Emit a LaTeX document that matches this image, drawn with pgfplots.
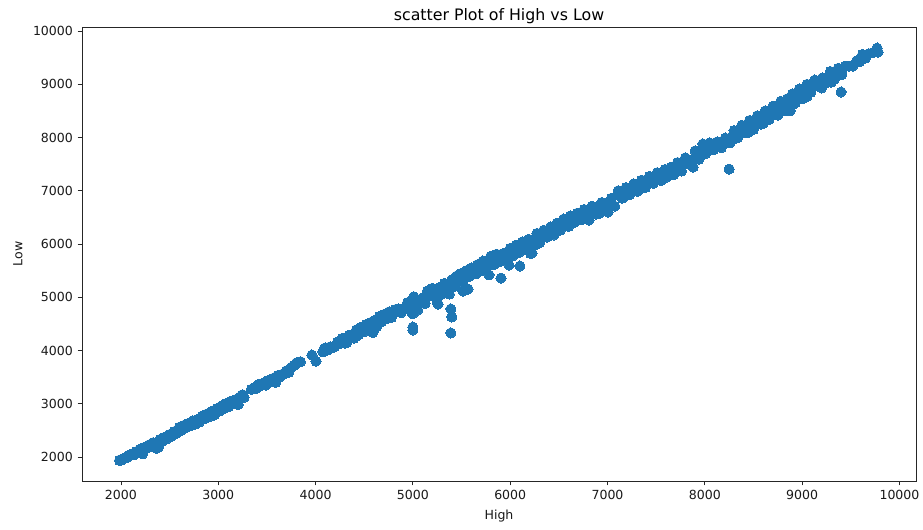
\documentclass[border=0pt]{standalone}
\usepackage{fontspec}
\setmainfont{DejaVu Sans}
\usepackage{pgfplots}
\pgfplotsset{compat=1.18}
\definecolor{mplblue}{HTML}{1F77B4}
\definecolor{spine}{HTML}{262626}

\begin{document}
\begin{tikzpicture}[x=1pt,y=1pt]
\path[use as bounding box] (-61.5,-36) rectangle (630.75,360.75);
\begin{axis}[
	at={(0,0)}, anchor=south west,
	scale only axis, width=625.5pt, height=340.5pt,
	xmin=1600, xmax=10170, ymin=1550, ymax=10075,
	xtick={2000,3000,...,10000}, ytick={2000,3000,...,10000},
	scaled ticks=false,
	tick align=outside, tick pos=left,
	major tick length=3.3pt,
	every tick/.style={color=spine,line width=0.6pt},
	axis line style={color=spine,line width=0.6pt},
	/pgf/number format/assume math mode=true,
	/pgf/number format/1000 sep={},
	tick label style={font=\fontsize{9.4}{11}\selectfont,color=black!90},
	title={scatter Plot of High vs Low},
	title style={font=\fontsize{11.85}{13}\selectfont,yshift=-7pt,color=black},
	xlabel={High}, ylabel={Low},
	label style={font=\fontsize{9.4}{11}\selectfont,color=black!90},
	xlabel style={yshift=-1pt},
	ylabel style={yshift=1pt},
]
\addplot[only marks, mark=*, mark size=3.8pt, color=mplblue, mark options={draw=mplblue,fill=mplblue,line width=0pt}] coordinates {
(1985,1935)(1995,1950)(2010,1945)(2040,1985)(2060,1990)(2080,2035)(2100,2030)(2120,2065)(2135,2040)(2160,2105)
(2180,2110)(2200,2150)(2225,2060)(2230,2100)(2250,2190)(2270,2170)(2290,2230)(2310,2200)(2330,2270)(2350,2230)
(2365,2165)(2385,2180)(2400,2330)(2420,2290)(2445,2370)(2470,2340)(2495,2420)(2520,2390)(2550,2480)(2575,2450)
(2600,2560)(2620,2500)(2640,2590)(2665,2550)(2690,2630)(2715,2590)(2740,2680)(2765,2620)(2790,2710)(2810,2660)
(2835,2770)(2860,2720)(2885,2810)(2910,2760)(2935,2860)(2960,2790)(2985,2910)(3010,2860)(3035,2960)(3060,2910)
(3085,3010)(3110,2950)(3130,3050)(3155,3000)(3180,3080)(3205,2985)(3225,3130)(3250,3170)(3265,3120)
(3340,3270)(3365,3300)(3390,3290)(3415,3365)(3440,3340)(3465,3390)(3490,3350)(3515,3440)(3540,3410)(3565,3480)
(3590,3400)(3610,3530)(3630,3500)(3650,3550)(3675,3560)(3700,3620)(3725,3590)(3755,3690)(3780,3720)(3805,3770)
(3825,3780)(3845,3790)
(3963,3915)(4004,3800)
(4076,3975)(4085,4020)(4100,4050)(4125,4010)(4150,4070)(4175,4055)(4200,4080)(4225,4160)(4250,4130)(4275,4230)
(4300,4210)(4320,4150)(4345,4290)(4370,4260)(4395,4230)(4420,4390)(4445,4300)(4470,4440)(4495,4350)(4520,4490)
(4545,4420)(4570,4530)(4590,4340)(4610,4570)(4630,4450)(4655,4640)(4680,4540)(4705,4680)(4730,4600)(4760,4730)
(4790,4660)(4820,4770)(4850,4780)(4880,4710)(4910,4790)(4945,4900)(4965,4850)(4985,4720)(5000,4690)(5010,5010)
(5030,4920)(5050,4760)(5075,4930)(5100,4990)(5125,4880)(5150,5120)(5175,5030)(5200,5170)(5225,5080)(5245,4950)
(5258,4873)(5280,5190)(5300,5060)(5325,5260)(5350,5130)(5375,5060)(5400,5330)(5425,5200)(5450,5400)(5475,5280)
(5500,5450)(5515,5117)(5525,5340)(5550,5500)(5566,5155)(5580,5390)(5600,5550)(5630,5440)(5660,5610)(5690,5490)
(5720,5680)(5750,5540)(5782,5420)(5800,5770)(5830,5610)(5860,5810)(5880,5660)(5905,5360)(5925,5820)(5950,5700)
(5988,5605)(6000,5920)(6030,5780)(6060,5980)(6090,5840)(6100,5587)(6125,6040)(6160,5900)(6190,6090)(6210,5820)
(6224,5830)(6250,5980)(6275,6200)(6310,6060)(6345,6260)(6380,6130)(6415,6320)(6450,6190)(6480,6390)(6515,6260)
(6550,6470)(6585,6340)(6620,6530)(6655,6400)(6690,6580)(6725,6460)(6760,6650)(6790,6470)(6810,6450)(6840,6710)
(6880,6560)(6923,6582)(6940,6780)(6980,6650)(7005,6600)(7040,6860)(7075,6710)(7110,7000)(7150,6860)(7190,7060)
(7230,6930)(7270,7130)(7310,6990)(7350,7200)(7390,7060)(7430,7270)(7470,7140)(7510,7340)(7550,7190)(7590,7400)
(7610,7258)(7650,7440)(7680,7300)(7720,7530)(7760,7370)(7800,7620)(7840,7500)(7880,7445)(7900,7750)(7940,7590)
(7980,7880)(8010,7700)(8050,7900)(8090,7770)(8130,7920)(8170,7810)(8210,7990)(8250,7407)(8260,7900)(8300,8130)
(8340,8000)(8380,8230)(8420,8090)(8460,8320)(8500,8150)(8540,8410)(8580,8250)(8620,8500)(8660,8340)(8700,8590)
(8740,8430)(8780,8680)(8820,8500)(8850,8730)(8876,8500)(8900,8820)(8930,8650)(8970,8910)(9010,8730)(9050,9000)
(9090,8850)(9130,9080)(9170,8960)(9210,9120)(9250,9030)(9290,9240)(9330,9090)(9370,9300)(9400,8855)(9405,9180)
(9440,9340)(9480,9340)(9520,9340)(9560,9440)(9590,9420)(9620,9560)(9650,9490)(9680,9570)(9720,9590)(9770,9680)(9780,9605)
(5000,4441)(5000,4385)(5390,4780)(5400,4630)(5390,4330)
(4250,4180)(4350,4270)(4450,4370)(4550,4470)(4650,4570)(4750,4670)(4850,4750)(4950,4840)(5050,4930)(5150,5040)
(5250,5120)(5350,5230)(5450,5320)(5550,5420)(5650,5520)(5750,5640)(5850,5730)(5950,5830)(6050,5900)(6150,6000)
(6250,6100)(6330,6170)(6400,6240)(6470,6300)(6540,6380)(6610,6450)(6680,6510)(6750,6570)(6820,6650)(6890,6700)
(6960,6760)(7030,6800)(7100,6920)(7170,6970)(7240,7040)(7310,7090)(7380,7170)(7450,7220)(7520,7280)(7590,7310)
(7660,7380)(7730,7450)(7800,7530)(7870,7590)(7940,7690)(8010,7810)(8080,7860)(8150,7890)(8220,7920)(8290,8050)
(8360,8120)(8430,8200)(8500,8260)(8570,8330)(8640,8420)(8710,8500)(8780,8570)(8850,8620)(8920,8740)(8990,8810)
(9060,8900)(9130,8970)(9200,9040)(9270,9130)(9340,9190)(9410,9260)
(6300,6020)(6450,6170)(6600,6330)(6750,6470)(6900,6600)(7050,6740)(7200,6920)(7350,7050)(7500,7190)(7650,7320)
(8300,7970)(8450,8100)(8600,8270)(8750,8420)(8900,8620)(9050,8770)(9200,8930)(9300,9040)
(5650,5440)(5500,5310)(5350,5130)(4780,4620)(4550,4380)(4420,4270)(4300,4140)
};
\end{axis}
\end{tikzpicture}
\end{document}
